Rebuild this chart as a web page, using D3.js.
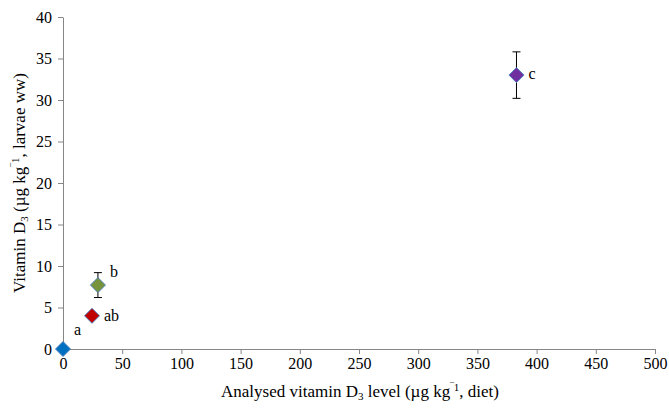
<!DOCTYPE html>
<html>
<head>
<meta charset="utf-8">
<script src="https://cdn.jsdelivr.net/npm/d3@7"></script>
<style>
  body { margin: 0; background: #fff; }
</style>
</head>
<body>
<script>
// data
var dietLevel = [0, 24.5, 29.5, 383];
var larvaeLevel = [0, 4.0, 7.7, 33.0];
var errTop = [0, 0, 1.5, 2.8];
var groupLabels = ["a", "ab", "b", "c"];
var markerColors = ["#0070C0", "#C00000", "#77933C", "#7030A0"];
var xTicks = [0, 50, 100, 150, 200, 250, 300, 350, 400, 450, 500];
var yTicks = [0, 5, 10, 15, 20, 25, 30, 35, 40];

var width = 669, height = 410;
var margin = ({top: 17, right: 14, bottom: 61, left: 63});
var fontStack = "'Liberation Serif'";

var svg = d3.select("body").append("svg")
    .attr("width", width)
    .attr("height", height)
    .attr("font-family", fontStack);

var x = d3.scaleLinear()
    .domain([0, 500])
    .range([margin.left, width - margin.right]);

var y = d3.scaleLinear()
    .domain([0, 40])
    .range([height - margin.bottom, margin.top]);

var axisColor = "#868686";

// x axis
var xAxis = svg.append("g")
    .attr("transform", `translate(0,${y(0)})`)
    .call(d3.axisBottom(x).tickValues(xTicks).tickSize(5).tickSizeOuter(0).tickPadding(4));
xAxis.attr("font-family", fontStack).attr("font-size", 16);
xAxis.select(".domain").attr("stroke", axisColor);
xAxis.selectAll(".tick line").attr("stroke", axisColor);
xAxis.selectAll(".tick text").attr("fill", "#000");

// y axis
var yAxis = svg.append("g")
    .attr("transform", `translate(${x(0)},0)`)
    .call(d3.axisLeft(y).tickValues(yTicks).tickSize(5).tickSizeOuter(0).tickPadding(6));
yAxis.attr("font-family", fontStack).attr("font-size", 16);
yAxis.select(".domain").attr("stroke", axisColor);
yAxis.selectAll(".tick line").attr("stroke", axisColor);
yAxis.selectAll(".tick text").attr("fill", "#000");

// error bars
var withErr = d3.range(dietLevel.length).filter(i => errTop[i] > 0);
var eb = svg.append("g").attr("stroke", "#000").attr("stroke-width", 1);
withErr.forEach(function(i) {
    var cx = x(dietLevel[i]);
    var y1 = y(larvaeLevel[i] + errTop[i]);
    var y2 = y(larvaeLevel[i] - errTop[i]);
    eb.append("line").attr("x1", cx).attr("x2", cx).attr("y1", y1).attr("y2", y2);
    eb.append("line").attr("x1", cx - 4).attr("x2", cx + 4).attr("y1", y1).attr("y2", y1);
    eb.append("line").attr("x1", cx - 4).attr("x2", cx + 4).attr("y1", y2).attr("y2", y2);
});

// diamond markers
var s = 7.5;
svg.append("g")
    .selectAll("path").data(d3.range(dietLevel.length)).enter().append("path")
        .attr("d", `M0,${-s}L${s},0L0,${s}L${-s},0Z`)
        .attr("transform", i => `translate(${x(dietLevel[i])},${y(larvaeLevel[i])})`)
        .attr("fill", i => markerColors[i])
        .attr("stroke", "#4F81BD")
        .attr("stroke-width", 1);

// significance letters
var labelOffset = [[11, -14], [12, 5], [12, -8], [12, 4]];
svg.append("g")
    .selectAll("text").data(d3.range(dietLevel.length)).enter().append("text")
        .attr("x", i => x(dietLevel[i]) + labelOffset[i][0])
        .attr("y", i => y(larvaeLevel[i]) + labelOffset[i][1])
        .attr("font-size", 16)
        .text(i => groupLabels[i]);

// x axis title
var xt = svg.append("text")
    .attr("x", 360)
    .attr("y", 397)
    .attr("text-anchor", "middle")
    .attr("font-size", 17);
xt.append("tspan").text("Analysed vitamin D");
xt.append("tspan").attr("dy", 3).attr("font-size", 11).text("3");
xt.append("tspan").attr("dy", -3).text(" level (µg kg");
xt.append("tspan").attr("dy", -6).attr("font-size", 11).text("\u203E1");
xt.append("tspan").attr("dy", 6).text(", diet)");

// y axis title
var yt = svg.append("text")
    .attr("transform", `translate(25,${(margin.top + height - margin.bottom) / 2}) rotate(-90)`)
    .attr("text-anchor", "middle")
    .attr("font-size", 17);
yt.append("tspan").text("Vitamin D");
yt.append("tspan").attr("dy", 3).attr("font-size", 11).text("3");
yt.append("tspan").attr("dy", -3).text(" (µg kg");
yt.append("tspan").attr("dy", -6).attr("font-size", 11).text("\u203E1");
yt.append("tspan").attr("dy", 6).text(", larvae ww)");
</script>
</body>
</html>
